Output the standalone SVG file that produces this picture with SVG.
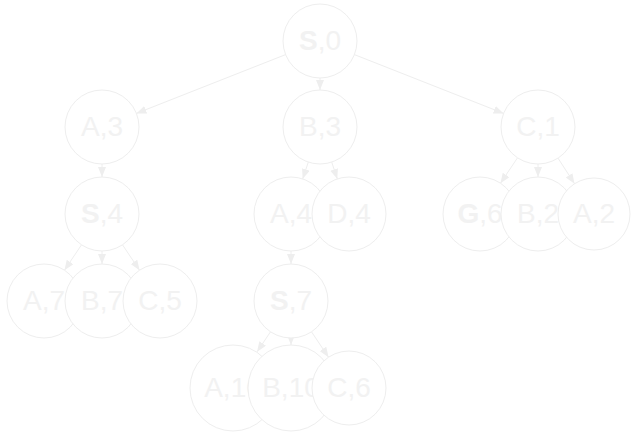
<svg xmlns="http://www.w3.org/2000/svg" width="631" height="432" viewBox="0 0 631 432">
<defs>
<marker id="ah" markerUnits="userSpaceOnUse" markerWidth="12" markerHeight="10" refX="10" refY="4" orient="auto">
<path d="M0,0 L10,4 L0,8 Z" fill="#eeeeee"/>
</marker>
<style>
.n circle{fill:#ffffff;stroke:#eeeeee;stroke-width:1}
.n text{fill:#f2f2f2;font-family:"Liberation Sans",Arial,sans-serif;font-size:28px;text-anchor:middle}
.b{font-weight:bold}
#edges line{stroke:#eeeeee;stroke-width:1;marker-end:url(#ah)}
</style>
</defs>
<rect width="631" height="432" fill="#ffffff"/>
<g id="edges">
<line x1="285.6" y1="54.6" x2="136.4" y2="113.4"/>
<line x1="320" y1="78" x2="320" y2="90"/>
<line x1="354.4" y1="54.6" x2="503.6" y2="113.4"/>
<line x1="102" y1="164" x2="102" y2="177"/>
<line x1="308.3" y1="162.1" x2="302.7" y2="178.9"/>
<line x1="331.7" y1="162.1" x2="337.3" y2="178.9"/>
<line x1="517.5" y1="157.8" x2="500.5" y2="183.2"/>
<line x1="538" y1="164" x2="538" y2="177"/>
<line x1="558" y1="158.1" x2="574.5" y2="183.7"/>
<line x1="81.5" y1="244.8" x2="64.5" y2="270.2"/>
<line x1="102" y1="251" x2="102" y2="264"/>
<line x1="122.5" y1="244.8" x2="139.5" y2="270.2"/>
<line x1="291" y1="251" x2="291" y2="264"/>
<line x1="270.5" y1="331.8" x2="257.1" y2="351.8"/>
<line x1="291" y1="338" x2="291" y2="345"/>
<line x1="311.5" y1="331.8" x2="328.5" y2="357.2"/>
</g>
<g id="n0" class="n"><circle cx="320" cy="41" r="37"/><text x="320" y="50"><tspan class="b">S</tspan>,0</text></g>
<g id="n1" class="n"><circle cx="102" cy="127" r="37"/><text x="102" y="136">A,3</text></g>
<g id="n2" class="n"><circle cx="320" cy="127" r="37"/><text x="320" y="136">B,3</text></g>
<g id="n3" class="n"><circle cx="538" cy="127" r="37"/><text x="538" y="136">C,1</text></g>
<g id="n4" class="n"><circle cx="102" cy="214" r="37"/><text x="102" y="223"><tspan class="b">S</tspan>,4</text></g>
<g id="n5" class="n"><circle cx="291" cy="214" r="37"/><text x="291" y="223">A,4</text></g>
<g id="n6" class="n"><circle cx="349" cy="214" r="37"/><text x="349" y="223">D,4</text></g>
<g id="n7" class="n"><circle cx="480" cy="214" r="37"/><text x="480" y="223"><tspan class="b">G</tspan>,6</text></g>
<g id="n8" class="n"><circle cx="538" cy="214" r="37"/><text x="538" y="223">B,2</text></g>
<g id="n9" class="n"><circle cx="594" cy="214" r="36"/><text x="594" y="223">A,2</text></g>
<g id="n10" class="n"><circle cx="44" cy="301" r="37"/><text x="44" y="310">A,7</text></g>
<g id="n11" class="n"><circle cx="102" cy="301" r="37"/><text x="102" y="310">B,7</text></g>
<g id="n12" class="n"><circle cx="160" cy="301" r="37"/><text x="160" y="310">C,5</text></g>
<g id="n13" class="n"><circle cx="291" cy="301" r="37"/><text x="291" y="310"><tspan class="b">S</tspan>,7</text></g>
<g id="n14" class="n"><circle cx="233" cy="388" r="43"/><text x="233" y="397">A,10</text></g>
<g id="n15" class="n"><circle cx="291" cy="388" r="43"/><text x="291" y="397">B,10</text></g>
<g id="n16" class="n"><circle cx="349" cy="388" r="37"/><text x="349" y="397">C,6</text></g>
</svg>
